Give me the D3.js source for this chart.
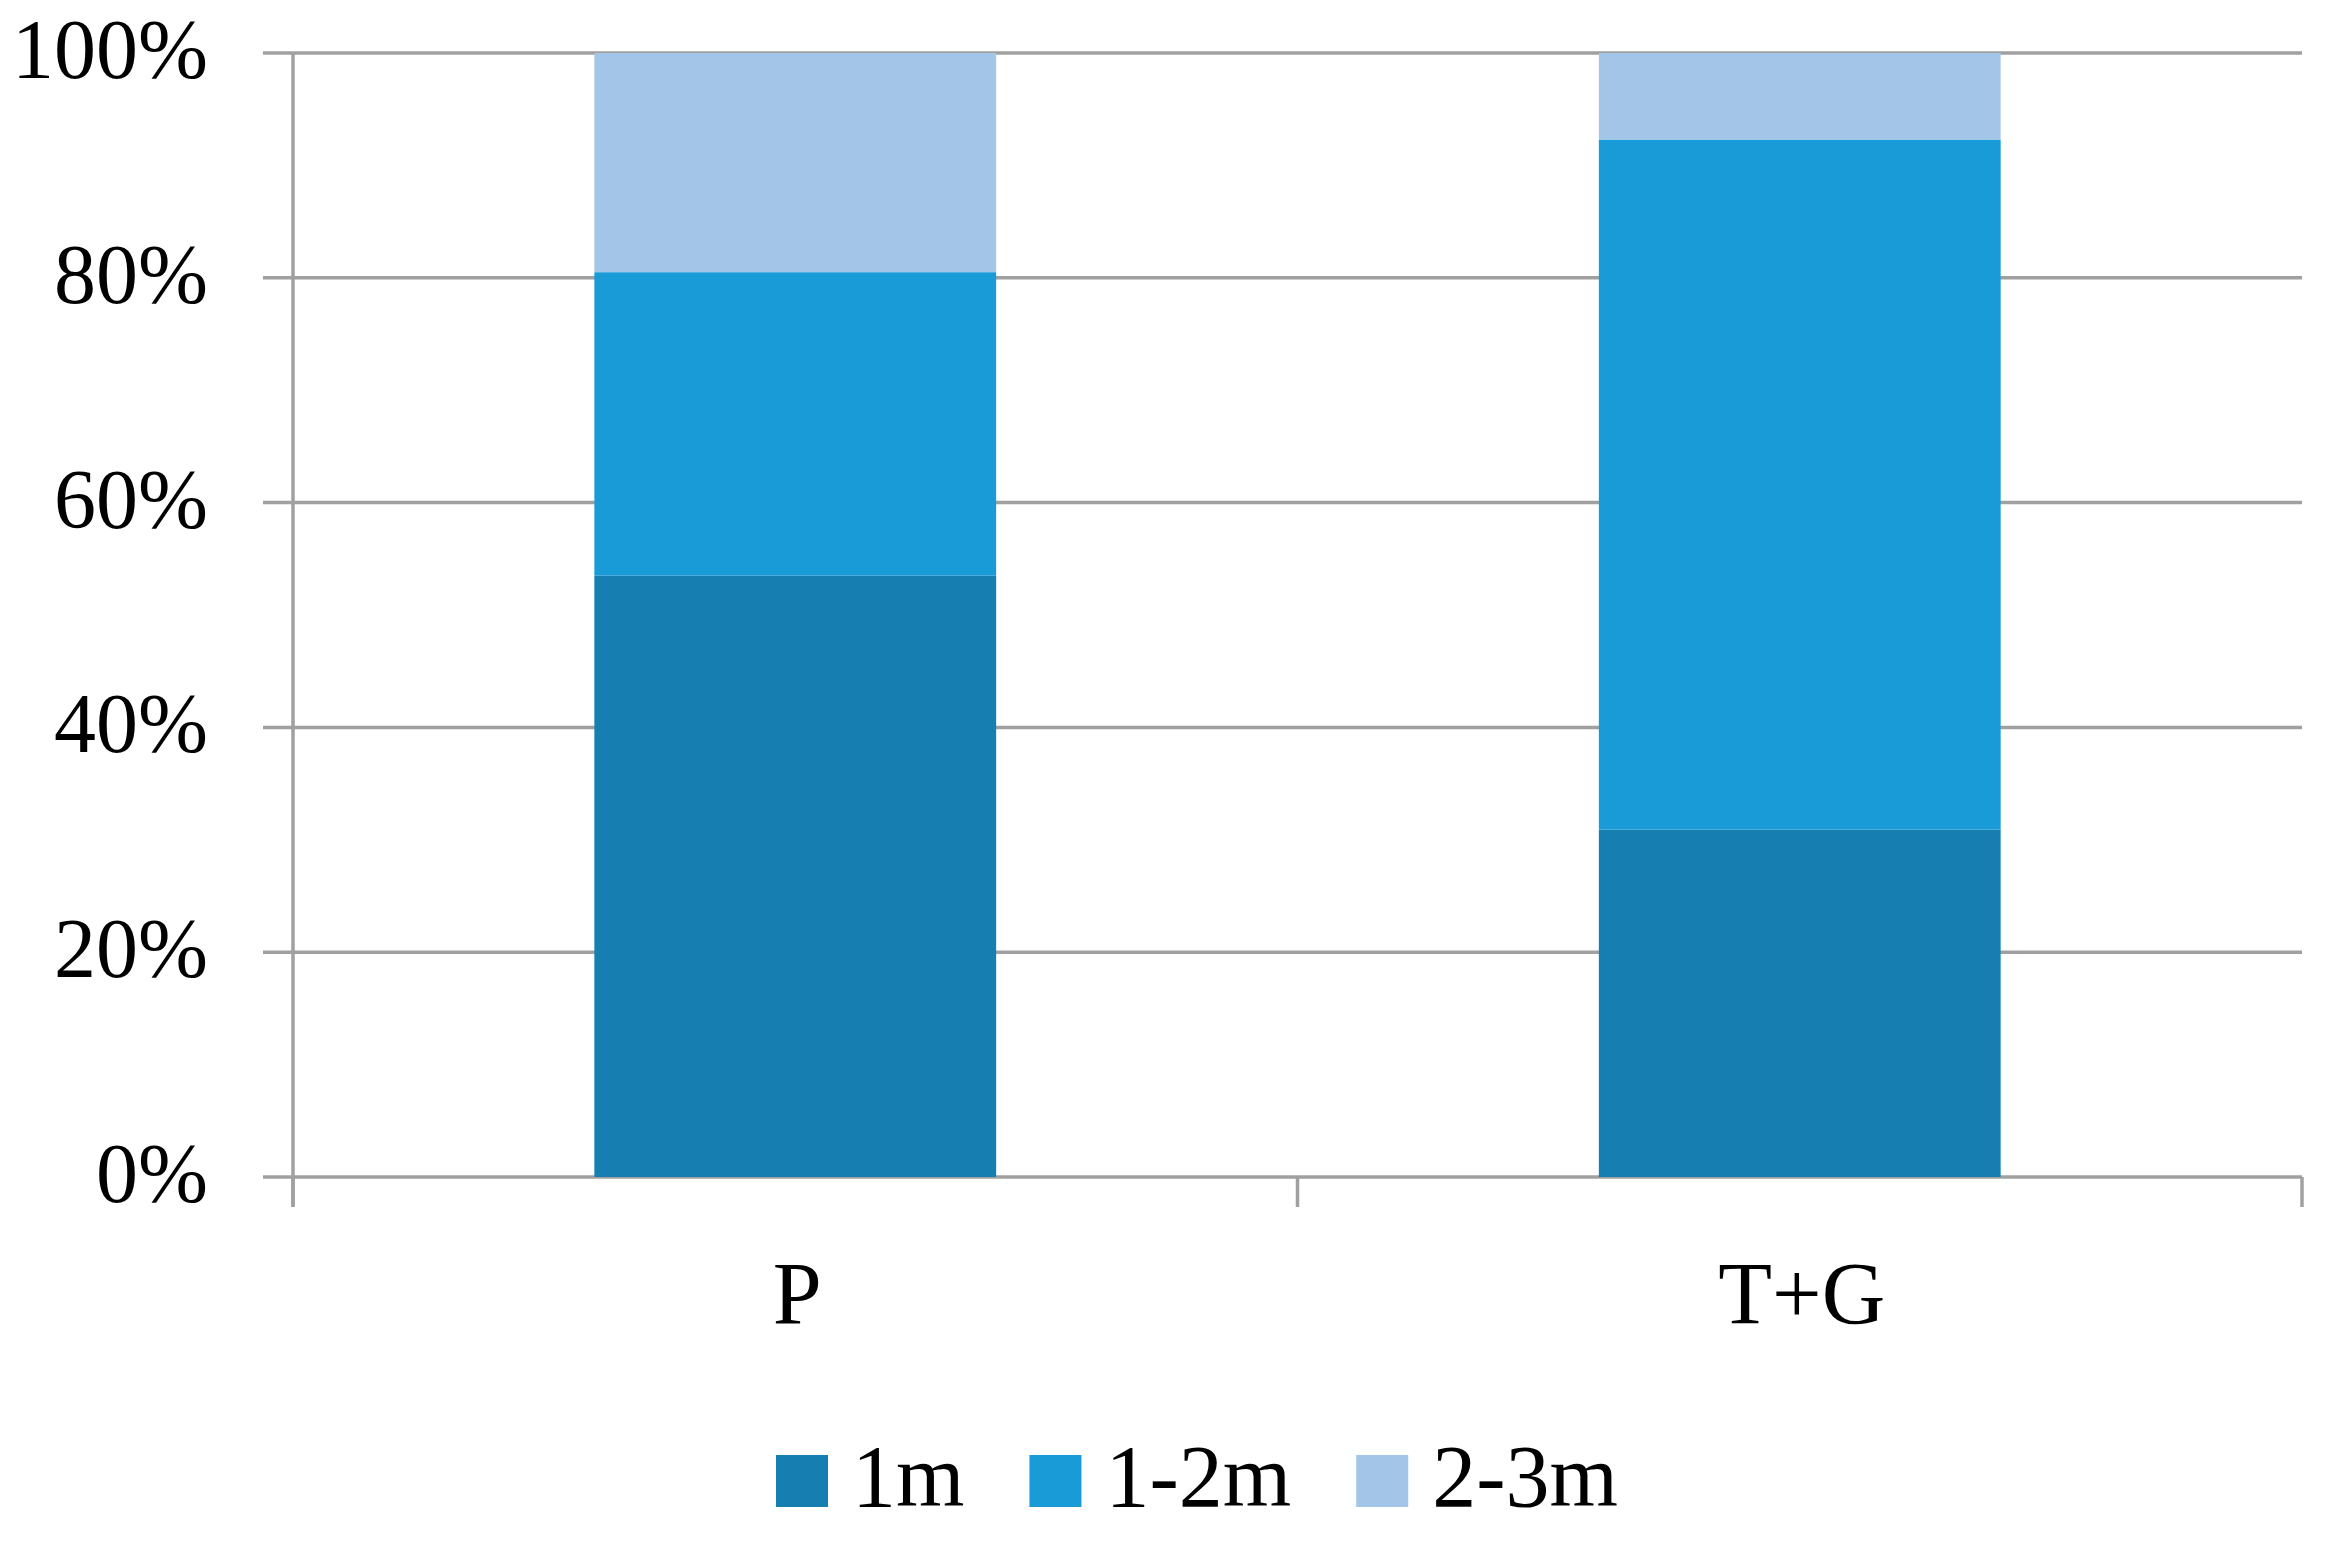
<!DOCTYPE html>
<html>
<head>
<meta charset="utf-8">
<script src="https://cdn.jsdelivr.net/npm/d3@7"></script>
<style>
  html, body { margin: 0; padding: 0; background: #ffffff; }
  svg { display: block; }
  text { font-family: "Liberation Serif", "Times New Roman", serif; fill: #000; }
</style>
</head>
<body>
<svg id="chart" width="2331" height="1542"></svg>
<script>
// ---- data ----
const categories = ["P", "T+G"];
const seriesNames = ["1m", "1-2m", "2-3m"];
const values1m   = [53.5, 30.9];
const values12m  = [27.0, 61.4];
const values23m  = [19.5, 7.7];
const yTicks = [0, 20, 40, 60, 80, 100];
const colors = ["#177eb1", "#199bd7", "#a3c6e8"];

// ---- layout ----
const W = 2331, H = 1542;
const margin = { left: 293, right: 29, top: 53, bottom: 365 };
const plotW = W - margin.left - margin.right;
const plotH = H - margin.top - margin.bottom;

const svg = d3.select("#chart");
const g = svg.append("g").attr("transform", `translate(${margin.left},${margin.top})`);

const x = d3.scaleBand().domain(categories).range([0, plotW]).paddingInner(0.6).paddingOuter(0.3);
const y = d3.scaleLinear().domain([0, 100]).range([plotH, 0]);

const gridColor = "#a0a0a0";

// gridlines
g.append("g").selectAll("line").data(yTicks).join("line")
  .attr("x1", -30).attr("x2", plotW)
  .attr("y1", d => y(d)).attr("y2", d => y(d))
  .attr("stroke", gridColor).attr("stroke-width", 3.5);

// y axis line
g.append("line").attr("x1", 0).attr("x2", 0).attr("y1", 0).attr("y2", plotH + 30)
  .attr("stroke", gridColor).attr("stroke-width", 3.5);

// x-axis boundary ticks
const boundaries = d3.range(categories.length + 1).map(i => i * plotW / categories.length);
g.append("g").selectAll("line").data(boundaries).join("line")
  .attr("x1", d => d).attr("x2", d => d)
  .attr("y1", plotH).attr("y2", plotH + 30)
  .attr("stroke", gridColor).attr("stroke-width", 3.5);

// y tick labels
g.append("g").selectAll("text").data(yTicks).join("text")
  .attr("x", -85).attr("y", d => y(d) + 25)
  .attr("text-anchor", "end")
  .attr("font-size", 84)
  .text(d => d + "%");

// stacked data
const table = categories.map((c, i) => ({ cat: c, "1m": values1m[i], "1-2m": values12m[i], "2-3m": values23m[i] }));
const stack = d3.stack().keys(seriesNames)(table);

g.append("g").selectAll("g").data(stack).join("g")
  .attr("fill", (d, i) => colors[i])
  .selectAll("rect").data(d => d).join("rect")
  .attr("x", d => x(d.data.cat))
  .attr("width", x.bandwidth())
  .attr("y", d => y(d[1]))
  .attr("height", d => y(d[0]) - y(d[1]));

// category labels
g.append("g").selectAll("text").data(categories).join("text")
  .attr("x", d => x(d) + x.bandwidth() / 2 + 2)
  .attr("y", plotH + 146)
  .attr("text-anchor", "middle")
  .attr("font-size", 88)
  .text(d => d);

// legend
const legend = svg.append("g").attr("transform", "translate(776,1455)");
let lx = 0;
seriesNames.forEach((name, i) => {
  const item = legend.append("g").attr("transform", `translate(${lx},0)`);
  item.append("rect").attr("width", 52).attr("height", 52).attr("fill", colors[i]);
  const t = item.append("text").attr("x", 76).attr("y", 51).attr("font-size", 88).text(name);
  const tw = t.node().getComputedTextLength();
  lx += 76 + tw + 65;
});
</script>
</body>
</html>
